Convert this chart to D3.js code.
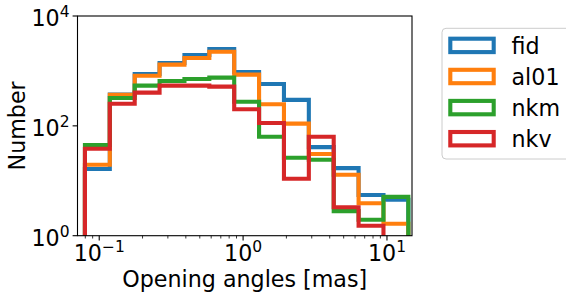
<!DOCTYPE html>
<html>
<head>
<meta charset="utf-8">
<script src="https://cdn.jsdelivr.net/npm/d3@7"></script>
<style>
  html, body { margin: 0; padding: 0; background: #fff; }
  svg { display: block; font-family: "DejaVu Sans", sans-serif; }
</style>
</head>
<body>
<svg id="chart" width="566" height="295"></svg>
<script>
// ---- data ----
const seriesNames = ["fid", "al01", "nkm", "nkv"];
const seriesColors = ["#1f77b4", "#ff7f0e", "#2ca02c", "#d62728"];
// log10 of bin edges (14 edges, 13 bins, log-spaced)
const logEdgeMin = -1.0993;
const logEdgeMax = 1.1486;
const nBins = 13;
const fid  = [16.4, 372, 879, 1393, 1950, 2506, 955, 578, 297, 41, 17, 5.5, 4.5];
const al01 = [19.6, 369, 819, 1300, 1720, 2240, 855, 247, 110, 30.7, 12.9, 3.9, 1.65];
const nkm  = [44.8, 321, 539, 655, 712, 754, 275, 63.5, 26.3, 24.2, 2.8, 1.95, 5.1];
const nkv  = [38.4, 253, 402, 539, 539, 517, 200, 113, 10.9, 63.5, 3.3, 1.52, 0];
const yTicks = [1, 100, 10000];
const yTickExp = ["0", "2", "4"];
const xTicks = [0.1, 1, 10];
const xTickExp = ["\u22121", "0", "1"];
const xLabel = "Opening angles [mas]";
const yLabel = "Number";

const seriesValues = [fid, al01, nkm, nkv];
const edges = d3.range(nBins + 1).map(i => Math.pow(10, logEdgeMin + i * (logEdgeMax - logEdgeMin) / nBins));

// ---- layout ----
const L = 77.5, R = 412, T = 16, B = 235.7;
const FS = 22.2, SUP = 15.5;
const svg = d3.select("#chart");

const x = d3.scaleLog().domain([Math.pow(10, -1.151), Math.pow(10, 1.174)]).range([L, R]);
const y = d3.scaleLog().domain([1, 10000]).range([B, T]);

svg.append("defs").append("clipPath").attr("id", "clip")
  .append("rect").attr("x", L).attr("y", T).attr("width", R - L).attr("height", B - T);

const yv = v => (v > 0 ? y(v) : B + 20);

const g = svg.append("g").attr("clip-path", "url(#clip)");
seriesValues.forEach((vals, si) => {
  const pts = [[x(edges[0]), B + 20]];
  vals.forEach((v, i) => {
    pts.push([x(edges[i]), yv(v)]);
    pts.push([x(edges[i + 1]), yv(v)]);
  });
  pts.push([x(edges[nBins]), B + 20]);
  g.append("path")
    .attr("d", d3.line()(pts))
    .attr("fill", "none")
    .attr("stroke", seriesColors[si])
    .attr("stroke-width", 4.1)
    .attr("stroke-linejoin", "miter")
    .attr("stroke-linecap", "butt");
});

// frame
svg.append("rect").attr("x", L).attr("y", T).attr("width", R - L).attr("height", B - T)
  .attr("fill", "none").attr("stroke", "#000").attr("stroke-width", 1.1);

// x ticks (major + minor)
const [d0, d1] = x.domain();
const minor = [];
for (let e = -2; e <= 1; e++) {
  for (let m = 2; m <= 9; m++) {
    const v = m * Math.pow(10, e);
    if (v >= d0 && v <= d1) minor.push(v);
  }
}
svg.append("g").selectAll("line.minor").data(minor).join("line")
  .attr("x1", d => x(d)).attr("x2", d => x(d))
  .attr("y1", B).attr("y2", B + 2.8)
  .attr("stroke", "#000").attr("stroke-width", 0.8);
svg.append("g").selectAll("line.major").data(xTicks).join("line")
  .attr("x1", d => x(d)).attr("x2", d => x(d))
  .attr("y1", B).attr("y2", B + 4.9)
  .attr("stroke", "#000").attr("stroke-width", 1.1);

xTicks.forEach((t, i) => {
  const tx = svg.append("text")
    .attr("x", x(t)).attr("y", 260.5)
    .attr("text-anchor", "middle")
    .attr("font-size", FS).attr("fill", "#000");
  tx.append("tspan").text("10");
  tx.append("tspan").attr("dy", -8.5).attr("font-size", SUP).text(xTickExp[i]);
});

// y ticks
svg.append("g").selectAll("line.y").data(yTicks).join("line")
  .attr("x1", L - 4.9).attr("x2", L)
  .attr("y1", d => y(d)).attr("y2", d => y(d))
  .attr("stroke", "#000").attr("stroke-width", 1.1);
yTicks.forEach((t, i) => {
  const ty = svg.append("text")
    .attr("x", 69.5).attr("y", y(t) + 9.8)
    .attr("text-anchor", "end")
    .attr("font-size", FS).attr("fill", "#000");
  ty.append("tspan").text("10");
  ty.append("tspan").attr("dy", -8.5).attr("font-size", SUP).text(yTickExp[i]);
});

// axis labels
svg.append("text").attr("x", (L + R) / 2).attr("y", 286.5)
  .attr("text-anchor", "middle").attr("font-size", FS).attr("fill", "#000")
  .text(xLabel);
svg.append("text")
  .attr("transform", `translate(25,${(T + B) / 2}) rotate(-90)`)
  .attr("text-anchor", "middle").attr("font-size", FS).attr("fill", "#000")
  .text(yLabel);

// legend
const lg = svg.append("g");
lg.append("rect").attr("x", 442).attr("y", 28.3).attr("width", 160).attr("height", 130.7)
  .attr("rx", 4).attr("fill", "#fff").attr("fill-opacity", 0.8)
  .attr("stroke", "#cccccc").attr("stroke-width", 1);
seriesNames.forEach((n, i) => {
  const cy = 45.4 + i * 31.1;
  lg.append("rect").attr("x", 450.3).attr("y", cy - 6.7).attr("width", 43.4).attr("height", 13.4)
    .attr("fill", "none").attr("stroke", seriesColors[i]).attr("stroke-width", 4.1);
  lg.append("text").attr("x", 511.5).attr("y", cy + 8.5)
    .attr("font-size", FS).attr("fill", "#000").text(n);
});
</script>
</body>
</html>
